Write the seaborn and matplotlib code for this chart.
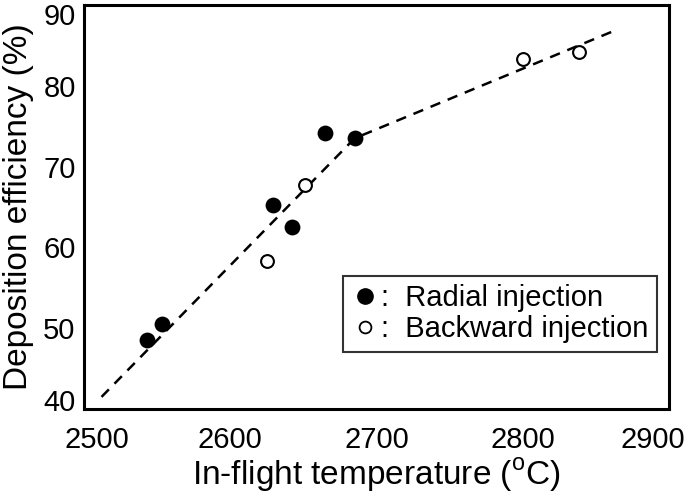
import numpy as np
import pandas as pd
import matplotlib
matplotlib.use("Agg")
import matplotlib.pyplot as plt
import matplotlib.transforms as mtransforms
import seaborn as sns
from matplotlib.lines import Line2D

# Data
radial_temp = [2543, 2553, 2629, 2642, 2665, 2685]
radial_eff = [48.5, 50.5, 65.2, 62.5, 74.2, 73.5]
backward_temp = [2625, 2651, 2800, 2838]
backward_eff = [58.3, 67.7, 83.3, 84.2]
fit_temp = [2512, 2685, 2865]
fit_eff = [41.5, 73.5, 87.0]

x_ticks = [2500, 2600, 2700, 2800, 2900]
y_ticks = [40, 50, 60, 70, 80, 90]

sns.set_theme(style="white")
plt.rcParams['font.family'] = ['Liberation Sans', 'DejaVu Sans']
plt.rcParams['mathtext.fontset'] = 'custom'
plt.rcParams['mathtext.rm'] = 'Liberation Sans'
plt.rcParams['text.color'] = 'black'
plt.rcParams['axes.labelcolor'] = 'black'

radial = pd.DataFrame({"temp": radial_temp, "eff": radial_eff})
backward = pd.DataFrame({"temp": backward_temp, "eff": backward_eff})
fit = pd.DataFrame({"temp": fit_temp, "eff": fit_eff})

fig = plt.figure(figsize=(6.85, 4.95), dpi=100)
ax = fig.add_axes([0.1226, 0.1737, 0.8544, 0.8163])

sns.lineplot(data=fit, x="temp", y="eff", ax=ax, color="black", lw=1.8,
             dashes=False, sort=False)
ax.lines[0].set_dashes((4.2, 3.2))
sns.scatterplot(data=radial, x="temp", y="eff", ax=ax, color="black",
                s=130, edgecolor="black", linewidth=0, zorder=3)
sns.scatterplot(data=backward, x="temp", y="eff", ax=ax, facecolor="white",
                s=85, edgecolor="black", linewidth=1.5, zorder=3)

ax.set_xlim(2500, 2900)
ax.set_ylim(40, 90)
ax.set_xticks(x_ticks)
ax.set_yticks(y_ticks)
ax.tick_params(direction="in", length=13, width=1.6, labelsize=21,
               colors="black")
ax.tick_params(axis="x", pad=12)
ax.tick_params(axis="y", pad=6)
for sp in ax.spines.values():
    sp.set_visible(True)
    sp.set_color("black")
    sp.set_linewidth(2.2)

# end labels sit a little inward in the reference
xl = ax.get_xticklabels()
xl[0].set_transform(xl[0].get_transform() + mtransforms.ScaledTranslation(13/100, 0, fig.dpi_scale_trans))
xl[-1].set_transform(xl[-1].get_transform() + mtransforms.ScaledTranslation(-16/100, 0, fig.dpi_scale_trans))
yl = ax.get_yticklabels()
yl[0].set_transform(yl[0].get_transform() + mtransforms.ScaledTranslation(0, 9/100, fig.dpi_scale_trans))
yl[-1].set_transform(yl[-1].get_transform() + mtransforms.ScaledTranslation(0, -9/100, fig.dpi_scale_trans))

ax.set_xlabel(r"In-flight temperature ($^{\rm o}$C)", fontsize=24, labelpad=2)
ax.set_ylabel("Deposition efficiency (%)", fontsize=24, labelpad=7)

handles = [
    Line2D([], [], marker="o", ls="none", color="black", markersize=11),
    Line2D([], [], marker="o", ls="none", markerfacecolor="white",
           markeredgecolor="black", markeredgewidth=1.3, markersize=8.5),
]
leg = ax.legend(handles, [":  Radial injection", ":  Backward injection"],
                loc="lower left", bbox_to_anchor=(0.443, 0.141),
                borderaxespad=0, fontsize=21, handletextpad=0.1,
                handlelength=0.9, borderpad=0.3, labelspacing=0.1,
                frameon=True, fancybox=False)
leg.get_frame().set_edgecolor("black")
leg.get_frame().set_linewidth(1.5)

fig.savefig("out.png", dpi=100)
